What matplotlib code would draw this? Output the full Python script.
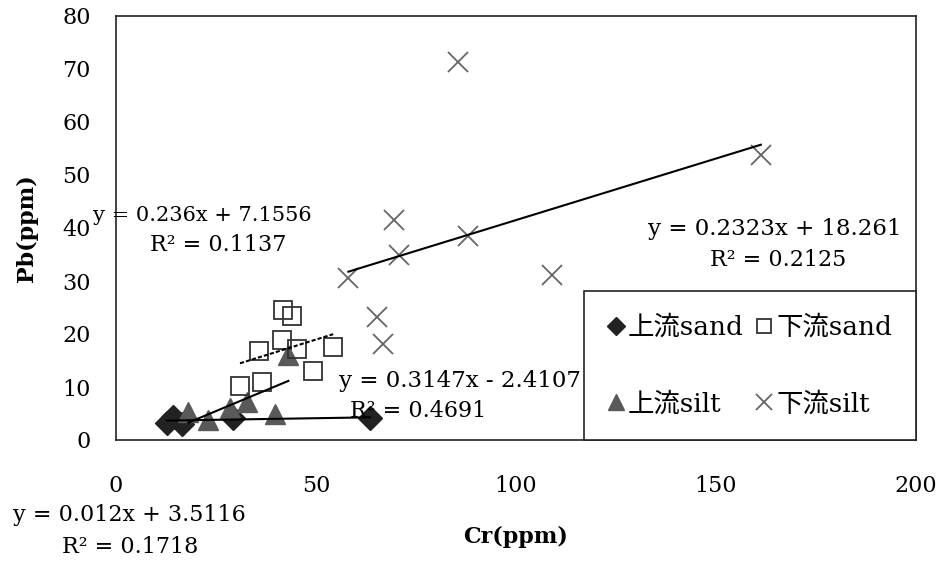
import matplotlib
matplotlib.use("Agg")
import numpy as np
import matplotlib.pyplot as plt

plt.rcParams['font.family'] = ['DejaVu Serif', 'Noto Sans CJK JP']

# 上流sand
up_sand_x = [12.7, 14.3, 16.4, 29.3, 63.5]
up_sand_y = [3.2, 4.3, 3.1, 4.1, 4.1]
# 下流sand
down_sand_x = [41.8, 43.9, 41.6, 35.8, 45.2, 54.3, 49.3, 31.0, 36.4]
down_sand_y = [24.5, 23.4, 18.9, 16.8, 17.1, 17.6, 13.1, 10.2, 11.0]
# 上流silt
up_silt_x = [18.1, 23.1, 28.5, 32.7, 39.8, 43.1]
up_silt_y = [5.3, 3.8, 6.0, 7.2, 5.0, 16.0]
# 下流silt
down_silt_x = [85.6, 161.2, 69.5, 87.9, 70.7, 58.1, 108.9, 65.2, 66.7]
down_silt_y = [71.3, 53.8, 41.5, 38.5, 34.9, 30.5, 31.1, 23.2, 18.1]

# trendline coefficients (slope, intercept) as printed on the chart
fit_up_sand = (0.012, 3.5116)
fit_down_sand = (0.236, 7.1556)
fit_up_silt = (0.3147, -2.4107)
fit_down_silt = (0.2323, 18.261)

x_ticks = [0, 50, 100, 150, 200]
y_ticks = [0, 10, 20, 30, 40, 50, 60, 70, 80]

fig = plt.figure(figsize=(9.42, 5.63), dpi=100)
ax = fig.add_axes([116 / 942, 123 / 563, 800 / 942, 424 / 563])

ax.plot(up_sand_x, up_sand_y, 'D', ms=12, color='#222222', mec='#222222', ls='none', label='上流sand', zorder=3)
ax.plot(up_silt_x, up_silt_y, '^', ms=15, color='#595959', mec='#595959', ls='none', label='上流silt', zorder=3)
ax.plot(down_sand_x, down_sand_y, 's', ms=13, mfc='none', mec='#333333', mew=1.3, ls='none', label='下流sand', zorder=3)
ax.plot(down_silt_x, down_silt_y, 'x', ms=15, color='#666666', mew=1.3, ls='none', label='下流silt', zorder=3)


def trend(xs, coef, **kw):
    xx = np.array([min(xs), max(xs)])
    ax.plot(xx, coef[0] * xx + coef[1], color='black', zorder=4, **kw)


trend(up_sand_x, fit_up_sand, lw=1.5)
trend(down_sand_x, fit_down_sand, lw=1.5, ls=(0, (2, 1)))
trend(up_silt_x, fit_up_silt, lw=1.5)
trend(down_silt_x, fit_down_silt, lw=1.5)

fs = 16
ax.text(21.5, 42.3, 'y = 0.236x + 7.1556', ha='center', va='center', fontsize=15, zorder=5)
ax.text(25.5, 36.8, 'R² = 0.1137', ha='center', va='center', fontsize=fs, zorder=5)
ax.text(3.25, -14.2, 'y = 0.012x + 3.5116', ha='center', va='center', fontsize=fs, clip_on=False)
ax.text(3.5, -20.2, 'R² = 0.1718', ha='center', va='center', fontsize=fs, clip_on=False)
ax.text(86, 11.1, 'y = 0.3147x - 2.4107', ha='center', va='center', fontsize=16.5, zorder=6)
ax.text(75.5, 5.5, 'R² = 0.4691', ha='center', va='center', fontsize=fs, zorder=6)
ax.text(164.75, 39.8, 'y = 0.2323x + 18.261', ha='center', va='center', fontsize=16.5, zorder=5)
ax.text(165.5, 34.0, 'R² = 0.2125', ha='center', va='center', fontsize=fs, zorder=5)

ax.set_xlim(0, 200)
ax.set_ylim(0, 80)
ax.set_xticks(x_ticks)
ax.set_yticks(y_ticks)
ax.tick_params(length=0, labelsize=fs)
ax.tick_params(axis='y', pad=18)
ax.tick_params(axis='x', pad=25)
for s in ax.spines.values():
    s.set_linewidth(1.2)
    s.set_color('#222222')

ax.set_xlabel('Cr(ppm)', fontsize=fs, fontweight='bold')
ax.xaxis.set_label_coords(0.5, -0.203)
ax.set_ylabel('Pb(ppm)', fontsize=fs, fontweight='bold')
ax.yaxis.set_label_coords(-0.0975, 0.5)

leg = ax.legend(ncol=2, loc='lower right', bbox_to_anchor=(1.0, 0.0), borderaxespad=0,
                fontsize=19, frameon=True, fancybox=False, edgecolor='#222222', framealpha=1,
                handlelength=0.6, handletextpad=0.15, columnspacing=0.5, labelspacing=1.95,
                borderpad=0.9, markerscale=0.75)
leg.get_frame().set_linewidth(1.2)
leg.set_zorder(5)

fig.savefig('out.png', dpi=100)
